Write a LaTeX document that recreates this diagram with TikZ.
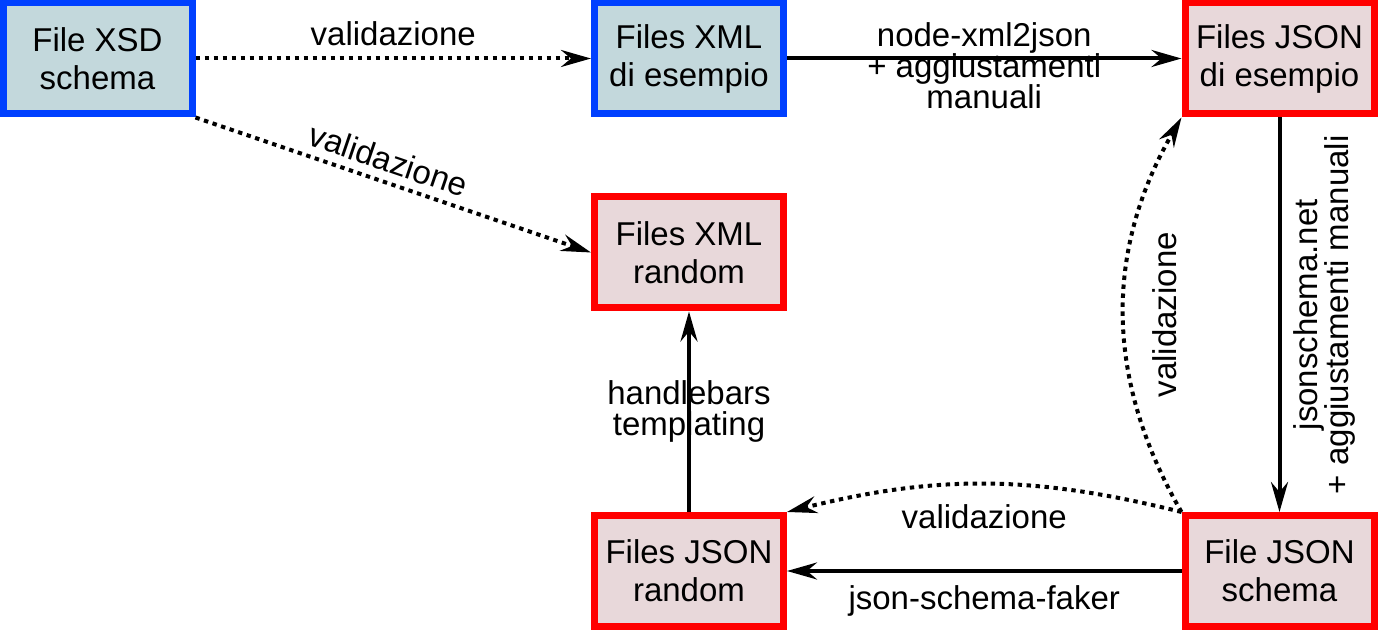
\documentclass[tikz,border=0pt]{standalone}
\usepackage{fontspec}
\setmainfont{Liberation Sans}
\usetikzlibrary{arrows.meta,positioning}

\definecolor{xmlblue}{RGB}{0,64,255}
\definecolor{xmlfill}{RGB}{195,216,220}
\definecolor{jsonred}{RGB}{255,0,0}
\definecolor{jsonfill}{RGB}{232,216,218}

\begin{document}
\begin{tikzpicture}[
  x=0.5pt,
  y=-0.5pt,
  file box/.style={
    line width=3.5pt,
    minimum width=94.5pt,
    minimum height=55.5pt,
    align=center,
    font=\fontsize{16.5}{19}\selectfont,
    inner sep=0pt
  },
  xml box/.style={
    file box,
    draw=xmlblue,
    fill=xmlfill
  },
  json box/.style={
    file box,
    draw=jsonred,
    fill=jsonfill
  },
  flow arrow/.style={
    -{Stealth[length=15pt,width=8.5pt,inset=5pt]},
    draw=black,
    line width=2pt
  },
  check arrow/.style={
    flow arrow,
    dash pattern=on 2.2pt off 2.3pt
  },
  edge text/.style={
    font=\fontsize{16.5}{15.5}\selectfont,
    align=center,
    inner sep=1pt
  }
]

\useasboundingbox (0,0) rectangle (1378,630);

\node[xml box] (xsd) at (97.5,58.5) {File XSD\\schema};
\node[xml box,right=197.75pt of xsd] (xmlex) {Files XML\\di esempio};
\node[json box,right=197.25pt of xmlex] (jsonex) {Files JSON\\di esempio};
\node[json box,below=38pt of xmlex] (xmlrand) {Files XML\\random};
\node[json box,below=100.25pt of xmlrand] (jsonrand) {Files JSON\\random};
\node[json box,below=197.25pt of jsonex] (jsonschema) {File JSON\\schema};

\draw[check arrow] (xsd) -- node[edge text,above=4.5pt] {validazione} (xmlex);
\draw[flow arrow] (xmlex) -- node[edge text,anchor=north,yshift=20pt]
  {node-xml2json\\+ aggiustamenti\\manuali} (jsonex);
\draw[check arrow] (xsd.south east) -- node[edge text,pos=0.47,sloped,above=3pt] {validazione} (xmlrand.west);
\draw[flow arrow] (jsonex) -- node[edge text,xshift=5pt,anchor=north,rotate=90]
  {jsonschema.net\\+ aggiustamenti manuali} (jsonschema);
\draw[check arrow] (jsonschema.north west) to[bend left=30]
  node[edge text,xshift=12.5pt,anchor=north,rotate=90] {validazione} (jsonex.south west);
\draw[check arrow] (jsonschema.north west) to[bend right=14]
  node[edge text,below=8.5pt] {validazione} (jsonrand.north east);
\draw[flow arrow] (jsonschema) -- node[edge text,below=5.5pt] {json-schema-faker} (jsonrand);
\draw[flow arrow] (jsonrand) -- node[edge text] {handlebars\\templating} (xmlrand);

\end{tikzpicture}
\end{document}
